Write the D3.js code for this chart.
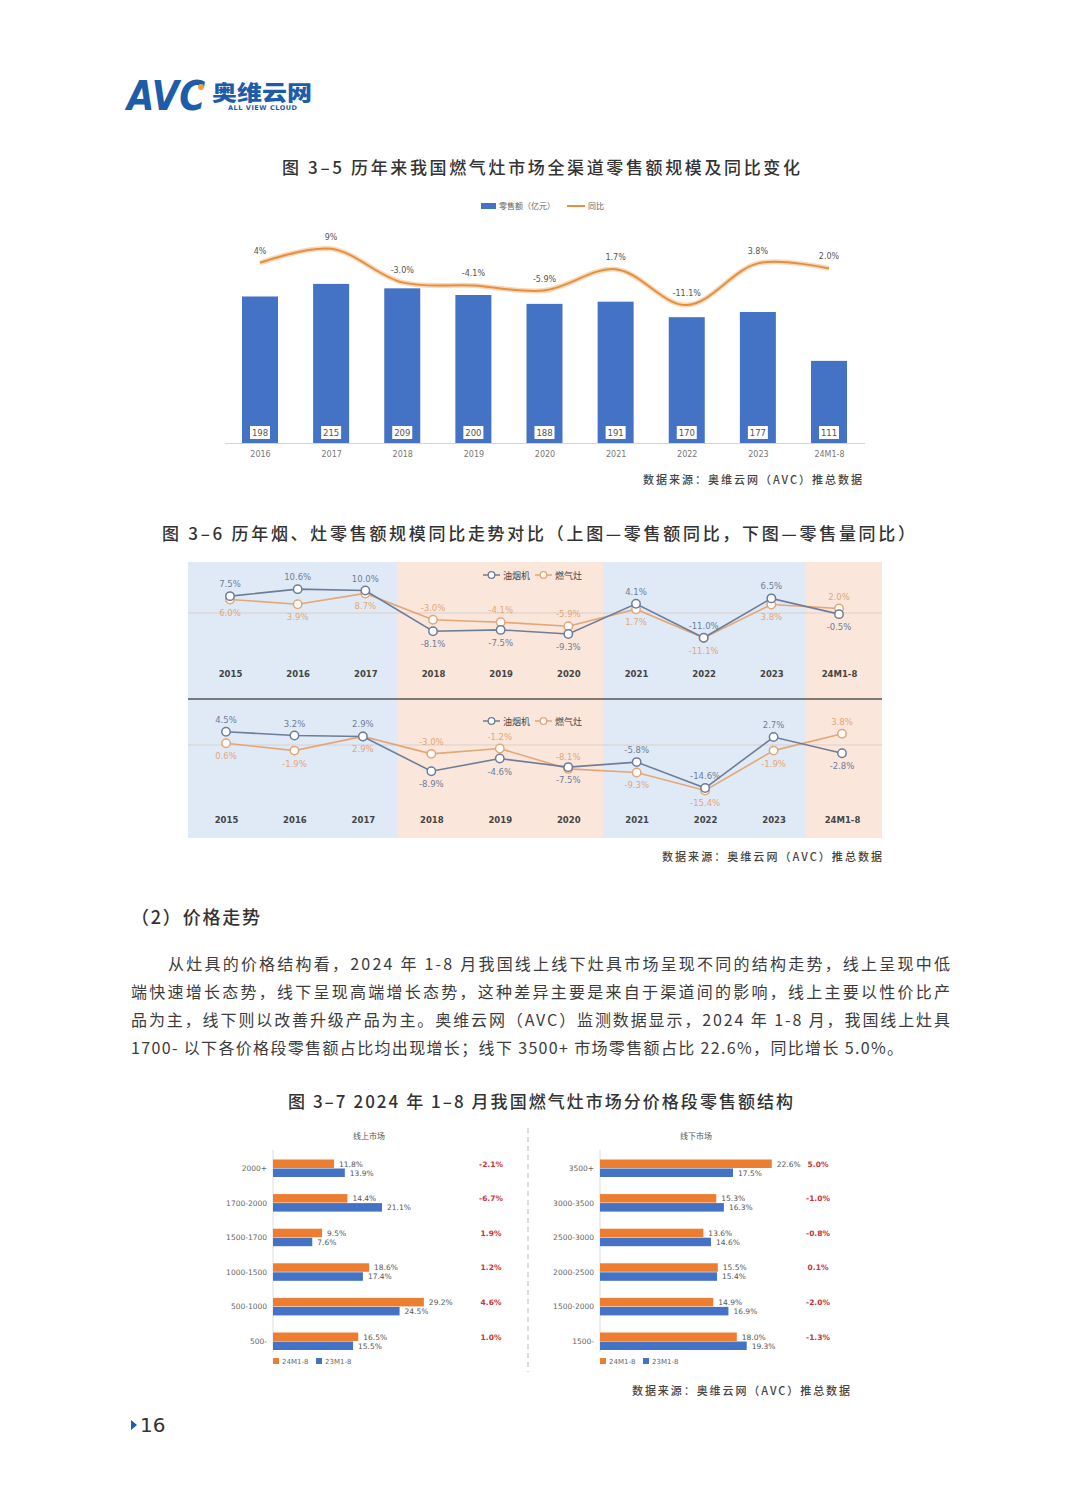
<!DOCTYPE html>
<html><head><meta charset="utf-8">
<script src="https://cdn.jsdelivr.net/npm/d3@7"></script>
<style>body{margin:0;background:#fff;} svg{display:block;font-family:"Noto Sans CJK SC","Noto Sans",sans-serif;}</style>
</head><body><svg id="c" width="1080" height="1504"></svg>
<script>
// ---------- DATA ----------
const years1 = ["2016","2017","2018","2019","2020","2021","2022","2023","24M1-8"];
const retail1 = [198,215,209,200,188,191,170,177,111];
const yoy1 = [4,9,-3.0,-4.1,-5.9,1.7,-11.1,3.8,2.0];
const yoy1Labels = ["4%","9%","-3.0%","-4.1%","-5.9%","1.7%","-11.1%","3.8%","2.0%"];

const years2 = ["2015","2016","2017","2018","2019","2020","2021","2022","2023","24M1-8"];
const hoodSales   = [7.5,10.6,10.0,-8.1,-7.5,-9.3,4.1,-11.0,6.5,-0.5];
const stoveSales  = [6.0,3.9,8.7,-3.0,-4.1,-5.9,1.7,-11.1,3.8,2.0];
const hoodVolume  = [4.5,3.2,2.9,-8.9,-4.6,-7.5,-5.8,-14.6,2.7,-2.8];
const stoveVolume = [0.6,-1.9,2.9,-3.0,-1.2,-8.1,-9.3,-15.4,-1.9,3.8];
// label placement (1 = above, -1 = below)
const hoodSalesSide   = [1,1,1,-1,-1,-1,1,1,1,-1];
const stoveSalesSide  = [-1,-1,-1,1,1,1,-1,-1,-1,1];
const hoodVolumeSide  = [1,1,1,-1,-1,-1,1,1,1,-1];
const stoveVolumeSide = [-1,-1,-1,1,1,1,-1,-1,-1,1];
const periodBands = [["2015","2017","blue"],["2018","2020","peach"],["2021","2023","blue"],["24M1-8","24M1-8","peach"]];

const onlineBands = ["2000+","1700-2000","1500-1700","1000-1500","500-1000","500-"];
const online24 = [11.8,14.4,9.5,18.6,29.2,16.5];
const online23 = [13.9,21.1,7.6,17.4,24.5,15.5];
const onlineChange = ["-2.1%","-6.7%","1.9%","1.2%","4.6%","1.0%"];
const offlineBands = ["3500+","3000-3500","2500-3000","2000-2500","1500-2000","1500-"];
const offline24 = [22.6,15.3,13.6,15.5,14.9,18.0];
const offline23 = [17.5,16.3,14.6,15.4,16.9,19.3];
const offlineChange = ["5.0%","-1.0%","-0.8%","0.1%","-2.0%","-1.3%"];

const paragraph = [
 "从灶具的价格结构看，2024 年 1-8 月我国线上线下灶具市场呈现不同的结构走势，线上呈现中低",
 "端快速增长态势，线下呈现高端增长态势，这种差异主要是来自于渠道间的影响，线上主要以性价比产",
 "品为主，线下则以改善升级产品为主。奥维云网（AVC）监测数据显示，2024 年 1-8 月，我国线上灶具",
 "1700- 以下各价格段零售额占比均出现增长；线下 3500+ 市场零售额占比 22.6%，同比增长 5.0%。"
];

// ---------- DRAW ----------
const svg = d3.select("#c");
const fmt = v => v.toFixed(1) + "%";

// logo
const logo = svg.append("g");
logo.append("text").attr("x",127).attr("y",110).attr("font-family","'DejaVu Sans','Liberation Sans',sans-serif")
  .attr("font-weight","900").attr("font-style","italic").attr("font-size",40).attr("fill","#1d5ca8")
  .attr("textLength",78).attr("lengthAdjust","spacingAndGlyphs").text("AVC");
logo.append("circle").attr("cx",201).attr("cy",87).attr("r",3).attr("fill","#f0a040");
logo.append("text").attr("x",212).attr("y",100).attr("font-weight","900").attr("font-size",21)
  .attr("fill","#1d5ca8").attr("textLength",100).attr("lengthAdjust","spacingAndGlyphs").text("奥维云网");
logo.append("text").attr("x",228).attr("y",110).attr("font-family","'DejaVu Sans',sans-serif").attr("font-weight","bold")
  .attr("font-size",6.5).attr("fill","#1d5ca8").attr("textLength",69).text("ALL VIEW CLOUD");

function title(txt, x1, x2, y, size){
  svg.append("text").attr("x",x1).attr("y",y).attr("font-size",size).attr("font-weight",500)
   .attr("fill","#333").attr("textLength",x2-x1).attr("lengthAdjust","spacing").text(txt);
}
function source(x1,x2,y){
  svg.append("text").attr("x",x1).attr("y",y).attr("font-size",11).attr("font-weight",500).attr("fill","#444")
   .attr("textLength",x2-x1).attr("lengthAdjust","spacing").text("数据来源：奥维云网（AVC）推总数据");
}

// ---------- Chart 1 ----------
title("图 3–5 历年来我国燃气灶市场全渠道零售额规模及同比变化",282,800,174,17);
const x1 = d3.scalePoint().domain(years1).range([260,829]);
const yBar = d3.scaleLinear().domain([0,250]).range([443,258]);
const yYoy = d3.scaleLinear().domain([-20,20]).range([330,218]);
const g1 = svg.append("g");
// legend
g1.append("rect").attr("x",481).attr("y",203).attr("width",15).attr("height",6).attr("fill","#4472c4");
g1.append("text").attr("x",499).attr("y",209).attr("font-size",8).attr("fill","#666").text("零售额（亿元）");
g1.append("line").attr("x1",567).attr("x2",585).attr("y1",206).attr("y2",206).attr("stroke","#e58f41").attr("stroke-width",2);
g1.append("text").attr("x",588).attr("y",209).attr("font-size",8).attr("fill","#666").text("同比");
// axis
g1.append("line").attr("x1",225).attr("x2",865).attr("y1",443.5).attr("y2",443.5).attr("stroke","#d4d4d4");
const ax1 = d3.axisBottom(x1).tickSize(0).tickPadding(8);
g1.append("g").attr("transform","translate(0,443)").call(ax1)
  .call(g=>g.select(".domain").remove())
  .call(g=>g.selectAll("text").attr("font-size",8).attr("fill","#777").attr("font-family","'DejaVu Sans',sans-serif"));
// bars
g1.selectAll("rect.bar").data(retail1).join("rect").attr("class","bar")
  .attr("x",(d,i)=>x1(years1[i])-18).attr("width",36)
  .attr("y",d=>yBar(d)).attr("height",d=>yBar(0)-yBar(d)).attr("fill","#4472c4");
g1.selectAll("rect.lbl").data(retail1).join("rect").attr("class","lbl")
  .attr("x",(d,i)=>x1(years1[i])-10).attr("width",20).attr("y",426).attr("height",13).attr("fill","#fff");
g1.selectAll("text.blbl").data(retail1).join("text").attr("class","blbl")
  .attr("x",(d,i)=>x1(years1[i])).attr("y",436).attr("text-anchor","middle")
  .attr("font-size",8.5).attr("fill","#555").attr("font-family","'DejaVu Sans',sans-serif").text(d=>d);
// line
const line1 = d3.line().x((d,i)=>x1(years1[i])).y(d=>yYoy(d)).curve(d3.curveCatmullRom.alpha(0.5));
g1.append("path").attr("d",line1(yoy1)).attr("fill","none").attr("stroke","#f5cfa8").attr("stroke-width",5).attr("opacity",0.8);
g1.append("path").attr("d",line1(yoy1)).attr("fill","none").attr("stroke","#e58f41").attr("stroke-width",2);
g1.selectAll("text.ylbl").data(yoy1).join("text").attr("class","ylbl")
  .attr("x",(d,i)=>x1(years1[i])).attr("y",d=>yYoy(d)-9).attr("text-anchor","middle")
  .attr("font-size",8).attr("fill","#555").attr("font-family","'DejaVu Sans',sans-serif").text((d,i)=>yoy1Labels[i]);
source(643,862,484);

// ---------- Chart 2 ----------
title("图 3–6 历年烟、灶零售额规模同比走势对比（上图—零售额同比，下图—零售量同比）",162,915,540,17);
const g2 = svg.append("g");
const bandEdges = {"2015":188,"2018":398,"2021":603,"24M1-8":806};
const bandEnds = {"2017":398,"2020":603,"2023":806,"24M1-8":882};
periodBands.forEach(b=>{
  g2.append("rect").attr("x",bandEdges[b[0]]).attr("width",bandEnds[b[1]]-bandEdges[b[0]])
    .attr("y",562).attr("height",276).attr("fill", b[2]==="blue" ? "#e0eaf6" : "#fbe6dc");
});
g2.append("line").attr("x1",188).attr("x2",882).attr("y1",699).attr("y2",699).attr("stroke","#555").attr("stroke-width",1.5);

const hoodColor = "#6d7d98", stoveColor = "#e3a677";
function panel(xRange, y0, k, hood, stove, hoodSide, stoveSide, labelY, legendY){
  const x = d3.scalePoint().domain(years2).range(xRange);
  const y = d3.scaleLinear().domain([-20,20]).range([y0+20*k, y0-20*k]);
  const g = g2.append("g");
  g.append("line").attr("x1",188).attr("x2",882).attr("y1",y(0)).attr("y2",y(0)).attr("stroke","#d9cfcc").attr("stroke-width",1);
  g.append("g").attr("transform",`translate(0,${labelY})`).call(d3.axisBottom(x).tickSize(0).tickPadding(0))
    .call(gg=>gg.select(".domain").remove())
    .call(gg=>gg.selectAll("text").attr("font-size",8.5).attr("font-weight","bold").attr("fill","#444").attr("font-family","'DejaVu Sans',sans-serif"));
  const ln = d3.line().x((d,i)=>x(years2[i])).y(d=>y(d));
  [[stove,stoveColor,stoveSide],[hood,hoodColor,hoodSide]].forEach(([vals,col,side])=>{
    g.append("path").attr("d",ln(vals)).attr("fill","none").attr("stroke",col).attr("stroke-width",1.6);
    g.selectAll(null).data(vals).join("circle").attr("cx",(d,i)=>x(years2[i])).attr("cy",d=>y(d)).attr("r",4.2)
      .attr("fill","#fff").attr("stroke",col).attr("stroke-width",1.5);
    g.selectAll(null).data(vals).join("text").attr("x",(d,i)=>x(years2[i])).attr("y",(d,i)=>side[i]>0 ? y(d)-9 : y(d)+16)
      .attr("text-anchor","middle").attr("font-size",8.5).attr("fill",col).attr("font-family","'DejaVu Sans',sans-serif").text(d=>fmt(d));
  });
  // legend
  [[483,hoodColor,"油烟机"],[535,stoveColor,"燃气灶"]].forEach(([lx,col,t])=>{
    g.append("line").attr("x1",lx).attr("x2",lx+17).attr("y1",legendY).attr("y2",legendY).attr("stroke",col).attr("stroke-width",1.5);
    g.append("circle").attr("cx",lx+8.5).attr("cy",legendY).attr("r",3.3).attr("fill","#fff").attr("stroke",col).attr("stroke-width",1.3);
    g.append("text").attr("x",lx+20).attr("y",legendY+3.5).attr("font-size",9).attr("fill","#444").text(t);
  });
}
panel([230,839],613,2.25,hoodSales,stoveSales,hoodSalesSide,stoveSalesSide,671,575);
panel([226,842],745,2.95,hoodVolume,stoveVolume,hoodVolumeSide,stoveVolumeSide,817,721);
source(662,882,861);

// ---------- section + paragraph ----------
svg.append("text").attr("x",131).attr("y",924).attr("font-size",18).attr("font-weight",500).attr("fill","#333")
  .attr("textLength",129).attr("lengthAdjust","spacing").text("（2）价格走势");
const paraX = [168,131,131,131], paraEnd = [950,950,950,903];
paragraph.forEach((t,i)=>{
  svg.append("text").attr("x",paraX[i]).attr("y",970+28*i).attr("font-size",16).attr("fill","#3c3c3c")
   .attr("textLength",paraEnd[i]-paraX[i]).attr("lengthAdjust","spacing").text(t);
});

// ---------- Chart 3 ----------
title("图 3–7 2024 年 1–8 月我国燃气灶市场分价格段零售额结构",288,793,1108,17);
const g3 = svg.append("g");
g3.append("line").attr("x1",528).attr("x2",528).attr("y1",1128).attr("y2",1372).attr("stroke","#bbb").attr("stroke-dasharray","5,4");
const orange = "#ed7d31", blue = "#4472c4";
function hbar(title, bands, v24, v23, chg, xmax, xRange, chgX, titleX){
  const g = g3.append("g");
  const x = d3.scaleLinear().domain([0,xmax]).range(xRange);
  const y = d3.scalePoint().domain(bands).range([1168,1341]);
  g.append("text").attr("x",titleX).attr("y",1139).attr("text-anchor","middle").attr("font-size",8).attr("fill","#555").text(title);
  g.append("line").attr("x1",xRange[0]).attr("x2",xRange[0]).attr("y1",1150).attr("y2",1352).attr("stroke","#ddd");
  g.append("g").attr("transform",`translate(${xRange[0]-2},0)`).call(d3.axisLeft(y).tickSize(0).tickPadding(4))
    .call(gg=>gg.select(".domain").remove())
    .call(gg=>gg.selectAll("text").attr("font-size",7.5).attr("fill","#666").attr("font-family","'DejaVu Sans',sans-serif"));
  [[v24,orange,-8.5],[v23,blue,0.5]].forEach(([vals,col,off])=>{
    g.selectAll(null).data(vals).join("rect").attr("x",x(0)).attr("y",(d,i)=>y(bands[i])+off)
      .attr("width",d=>x(d)-x(0)).attr("height",8.5).attr("fill",col);
    g.selectAll(null).data(vals).join("text").attr("x",d=>x(d)+5).attr("y",(d,i)=>y(bands[i])+off+7)
      .attr("font-size",7.5).attr("fill","#555").attr("font-family","'DejaVu Sans',sans-serif").text(d=>fmt(d));
  });
  g.selectAll(null).data(chg).join("text").attr("x",chgX).attr("y",(d,i)=>y(bands[i])-1.5).attr("text-anchor","middle")
    .attr("font-size",7.5).attr("font-weight","bold").attr("fill","#c9333b").attr("font-family","'DejaVu Sans',sans-serif").text(d=>d);
  // legend
  [[xRange[0],orange,"24M1-8"],[xRange[0]+43,blue,"23M1-8"]].forEach(([lx,col,t])=>{
    g.append("rect").attr("x",lx).attr("y",1358).attr("width",6).attr("height",6).attr("fill",col);
    g.append("text").attr("x",lx+9).attr("y",1364).attr("font-size",7).attr("fill","#666").attr("font-family","'DejaVu Sans',sans-serif").text(t);
  });
}
hbar("线上市场",onlineBands,online24,online23,onlineChange,30,[273,428],491,369);
hbar("线下市场",offlineBands,offline24,offline23,offlineChange,25,[600,790],818,696);
source(632,850,1395);

// page number
svg.append("path").attr("d","M131,1420 L137,1425 L131,1430 Z").attr("fill","#1d5ca8");
svg.append("text").attr("x",140).attr("y",1432).attr("font-size",20).attr("fill","#333").attr("font-family","'DejaVu Sans',sans-serif").text("16");
</script></body></html>
